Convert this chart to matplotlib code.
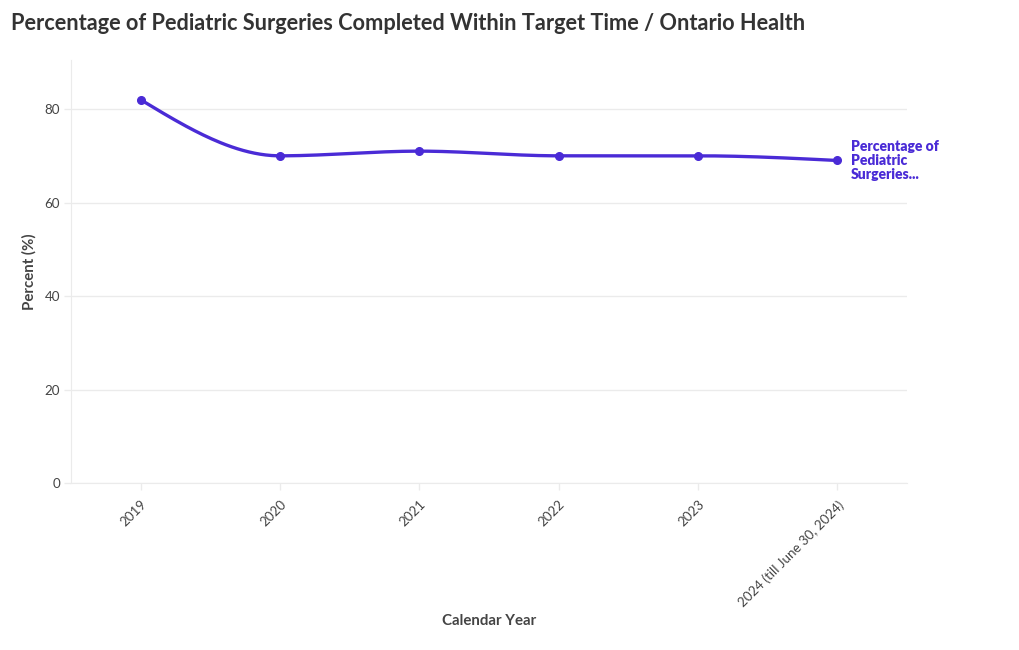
import numpy as np
import matplotlib
matplotlib.use("Agg")
import matplotlib.pyplot as plt

years = ["2019", "2020", "2021", "2022", "2023", "2024 (till June 30, 2024)"]
percent = [82, 70, 71, 70, 70, 69]
series_label = "Percentage of\nPediatric\nSurgeries..."

LINE = "#4a2bd6"
TXT = "#444444"
GRID = "#ebebeb"

plt.rcParams['font.family'] = ['Lato', 'DejaVu Sans']

fig = plt.figure(figsize=(10.2, 6.5), dpi=100)
ax = fig.add_axes([71/1020, 1-483/650, (907-71)/1020, (483-60)/650])
x = np.arange(len(years), dtype=float)
y = np.array(percent, dtype=float)
ax.set_xlim(-0.5, len(years)-0.5)
ax.set_ylim(0, 90.5)

# monotone-X cubic interpolation of the line path (d3 curveMonotoneX)
def slope3(i):
    h0 = x[i]-x[i-1]; h1 = x[i+1]-x[i]
    s0 = (y[i]-y[i-1])/h0; s1 = (y[i+1]-y[i])/h1
    p = (s0*h1 + s1*h0)/(h0+h1)
    return (np.sign(s0)+np.sign(s1)) * min(abs(s0), abs(s1), 0.5*abs(p))

n = len(x)
tan = np.zeros(n)
for i in range(1, n-1):
    tan[i] = slope3(i)
tan[0] = (3*(y[1]-y[0])/(x[1]-x[0]) - tan[1])/2
tan[-1] = (3*(y[-1]-y[-2])/(x[-1]-x[-2]) - tan[-2])/2

t = np.linspace(0, 1, 50)
cx, cy = [], []
for i in range(n-1):
    dx = (x[i+1]-x[i])/3
    P = np.array([[x[i], y[i]], [x[i]+dx, y[i]+dx*tan[i]],
                  [x[i+1]-dx, y[i+1]-dx*tan[i+1]], [x[i+1], y[i+1]]])
    b = ((1-t)**3)[:, None]*P[0] + (3*(1-t)**2*t)[:, None]*P[1] + (3*(1-t)*t**2)[:, None]*P[2] + (t**3)[:, None]*P[3]
    cx.extend(b[:, 0]); cy.extend(b[:, 1])
ax.plot(cx, cy, color=LINE, lw=2.4, solid_capstyle='round', zorder=3)
ax.plot(x, y, 'o', color=LINE, ms=5.5, zorder=4)

# end label
ax.annotate(series_label, xy=(x[-1], y[-1]), xytext=(9.5, 0), textcoords='offset points',
            color=LINE, fontsize=10, fontweight='heavy', va='center', ha='left',
            linespacing=1.05, annotation_clip=False)

ax.set_yticks([0, 20, 40, 60, 80])
ax.set_xticks(x)
ax.set_xticklabels(years, rotation=45, ha='right', va='top', rotation_mode='anchor')
ax.tick_params(axis='both', colors=GRID, labelcolor=TXT, labelsize=9.6, length=5, width=1)
ax.tick_params(axis='x', pad=6)
ax.tick_params(axis='y', pad=3)
ax.grid(axis='y', color=GRID, lw=1)
ax.set_axisbelow(True)
for s in ['top', 'right']:
    ax.spines[s].set_visible(False)
ax.spines['left'].set_color(GRID)
ax.spines['bottom'].set_color(GRID)

ax.set_xlabel("Calendar Year", fontsize=10.8, fontweight='bold', color=TXT)
ax.xaxis.set_label_coords(0.5, (483-621)/423, transform=ax.transAxes)
ax.xaxis.label.set_va('center')
ax.set_ylabel("Percent (%)", fontsize=10.8, fontweight='bold', color=TXT)
ax.yaxis.set_label_coords((29-71)/836, 0.5, transform=ax.transAxes)
ax.yaxis.label.set_va('center')

fig.text(11/1020, 1-24/650, "Percentage of Pediatric Surgeries Completed Within Target Time / Ontario Health",
         fontsize=15.65, fontweight='bold', color="#333333", ha='left', va='center')

fig.savefig("out.png", dpi=100)
